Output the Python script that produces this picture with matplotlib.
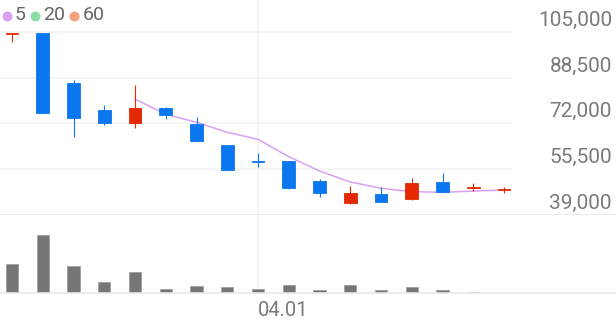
import numpy as np
import matplotlib
matplotlib.use('Agg')
import matplotlib.pyplot as plt
from matplotlib.lines import Line2D
from matplotlib import transforms

# daily candles (price in KRW)
opens  = [104100, 104400, 86640, 76920, 72240, 77640, 71770, 64200, 58600, 58450,
          51140, 43220, 46570, 44900, 50890, 48900, 48100]
closes = [104400, 75800, 73800, 72020, 77640, 74900, 65650, 55200, 58100, 48840,
          46820, 46820, 43690, 50640, 47290, 49250, 48400]
highs  = [104400, 104400, 87500, 78500, 85700, 77900, 74180, 64200, 61220, 58450,
          51860, 49450, 49000, 52440, 54020, 50640, 48980]
lows   = [101400, 75800, 66980, 71300, 70440, 73400, 65650, 55200, 56400, 48260,
          45600, 42860, 43690, 44410, 47290, 47760, 46820]
volumes = [290000, 580000, 270000, 110000, 210000, 45000, 70000, 65000, 40000,
           80000, 37000, 80000, 33000, 63000, 37000, 17000, 0]
ma5 = [np.nan] * 4 + [80770, 75260, 72380, 68780, 66260, 60000, 54850, 50890,
                      48620, 47400, 47180, 47600, 48010]
price_ticks = [105000, 88500, 72000, 55500, 39000]
date_pos = [8]
date_labels = ['04.01']
legend_items = [('5', '#d9a1f2'), ('20', '#8fdca4'), ('60', '#f5a27c')]

UP = '#e52800'
DOWN = '#0a77ee'
GRID = '#f2f2f2'
LINE = '#e8e8e8'
TXT = '#7a7a7a'

plt.rcParams['font.family'] = ['Roboto', 'DejaVu Sans']

fig = plt.figure(figsize=(6.16, 3.21), dpi=100)
W, H = 616, 321
ax = fig.add_axes([0, 1 - 215 / H, 1, 215 / H])
axv = fig.add_axes([0, 1 - 293.3 / H, 1, (293.3 - 215) / H])

n = len(opens)
x = np.arange(n)
step = 30.75
xlim = (-12 / step, (W - 12) / step)
grid_end = (512 - 12) / step

colors = [UP if c >= o else DOWN for o, c in zip(opens, closes)]

# price panel
for v in price_ticks[:-1]:
    ax.hlines(v, xlim[0], grid_end, color=GRID, lw=1.1, zorder=0)
ax.axvline(date_pos[0], color=GRID, lw=1.1, zorder=0)
ax.vlines(x, lows, highs, colors=colors, lw=0.8, zorder=4)
bottoms = np.minimum(opens, closes)
heights = np.abs(np.array(closes) - np.array(opens))
ax.bar(x, heights, bottom=bottoms, width=0.42, color=colors, edgecolor=colors,
       linewidth=0.6, zorder=5)
ax.plot(x, ma5, color='#d9a1f2', lw=1.1, zorder=3)

ax.set_xlim(*xlim)
ax.set_ylim(39000, 39000 + 215 / 45.83 * 16500)
ax.set_xticks([])
ax.set_yticks([])
for s in ['top', 'left', 'right']:
    ax.spines[s].set_visible(False)
ax.spines['bottom'].set_color(LINE)
ax.spines['bottom'].set_linewidth(1.3)

lab_tr = transforms.offset_copy(
    transforms.blended_transform_factory(ax.transAxes, ax.transData),
    fig=fig, y=6, units='dots')
for v in price_ticks:
    ax.text(612 / W, v, f'{v:,}', transform=lab_tr, ha='right', va='baseline',
            fontsize=15, color=TXT)

# volume panel
axv.axvline(date_pos[0], color=GRID, lw=1.1, zorder=0)
axv.bar(x, volumes, width=0.4, color='#767676', edgecolor='#9a9a9a',
        linewidth=0.5, zorder=2)
axv.set_xlim(*xlim)
axv.set_ylim(0, 783000)
axv.set_xticks([])
axv.set_yticks([])
for s in ['top', 'left', 'right']:
    axv.spines[s].set_visible(False)
axv.spines['bottom'].set_color(LINE)
axv.spines['bottom'].set_linewidth(1.2)

date_tr = transforms.offset_copy(axv.transData, fig=fig, y=-22.5, units='dots')
for p, lab in zip(date_pos, date_labels):
    axv.text(p, 0, lab, transform=date_tr, ha='left', va='baseline',
             fontsize=14.5, color=TXT)

# legend (moving averages)
lx = 6.5
for lab, col in legend_items:
    fig.add_artist(Line2D([lx / W], [1 - 16 / H], transform=fig.transFigure,
                          marker='o', ms=7.2, color=col, mew=0))
    t = fig.text((lx + 8.5) / W, 1 - 15 / H, lab, ha='left', va='center',
                 fontsize=14, color='#666666')
    fig.canvas.draw()
    bb = t.get_window_extent()
    lx = bb.x1 + 9

fig.savefig('out.png', dpi=100)
